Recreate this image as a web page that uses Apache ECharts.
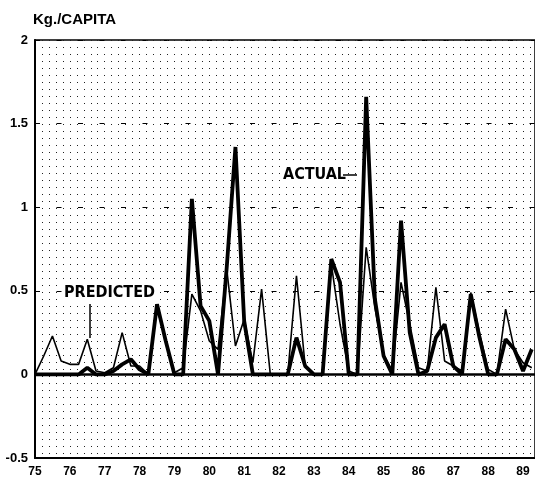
<!DOCTYPE html>
<html><head><meta charset="utf-8">
<script src="https://cdn.jsdelivr.net/npm/echarts@6/dist/echarts.min.js"></script>
<style>html,body{margin:0;padding:0;background:#fff}#c{width:535px;height:484px}</style>
</head><body><div id="c"></div>
<script>
// Quarterly data, first quarter of 1975 .. second quarter of 1989
const startYear = 75;
const quarterStep = 0.25;
const actual = [0,0,0,0, 0,0,0.04,0, 0,0.02,0.06,0.09, 0.03,0,0.42,0.2, 0,0,1.05,0.41,
  0.32,0,0.64,1.36, 0.32,0,0,0, 0,0,0.22,0.05, 0,0,0.69,0.55, 0,0,1.66,0.45,
  0.11,0,0.92,0.25, 0,0.02,0.22,0.3, 0.05,0,0.48,0.22, 0,0,0.21,0.15, 0.02,0.15];
const predicted = [0,0.11,0.23,0.08, 0.06,0.06,0.21,0.02, 0.01,0.04,0.25,0.05, 0.05,0,0.4,0.2, 0.01,0.04,0.48,0.38,
  0.2,0.15,0.63,0.17, 0.33,0.07,0.51,0, 0,0,0.59,0.05, 0,0,0.66,0.3, 0.02,0,0.76,0.4,
  0.12,0.02,0.55,0.3, 0.04,0.02,0.52,0.08, 0.05,0.02,0.49,0.25, 0.03,0,0.39,0.15, 0.07,0.04];
const yearLabels = ['75','76','77','78','79','80','81','82','83','84','85','86','87','88','89'];
const yTickLabels = ['-0.5','0','0.5','1','1.5','2'];
const yTitle = 'Kg./CAPITA';
const seriesNames = ['ACTUAL', 'PREDICTED'];

const times = actual.map((_, i) => startYear + i * quarterStep);
const pairs = arr => arr.map((v, i) => [times[i], v]);

const chart = echarts.init(document.getElementById('c'), null, {renderer: 'canvas'});
const dotStyle = {color: '#222', width: 1, type: [1, 6]};
const narrow = "'Liberation Sans Narrow','DejaVu Sans Condensed',Arial,sans-serif";

chart.setOption({
  animation: false,
  backgroundColor: '#fff',
  grid: {left: 35, right: -2, top: 40, bottom: 26, show: true, borderColor: '#000', borderWidth: 1.5, backgroundColor: 'transparent'},
  xAxis: {
    type: 'value', min: 75, max: 75 + 502 / 35, interval: 1,
    axisLine: {show: true, onZero: false, lineStyle: {color: '#000', width: 2}},
    axisTick: {show: false},
    axisLabel: {
      color: '#000', fontWeight: 'bold', fontSize: 12, fontFamily: 'Arial, sans-serif', margin: 8,
      showMaxLabel: false,
      formatter: v => (Number.isInteger(v) && v - 75 < yearLabels.length) ? yearLabels[v - 75] : ''
    },
    splitLine: {show: true, lineStyle: dotStyle},
    minorTick: {show: false, splitNumber: 5},
    minorSplitLine: {show: true, lineStyle: dotStyle}
  },
  yAxis: {
    type: 'value', min: -0.5, max: 2, interval: 0.5,
    axisLine: {show: true, lineStyle: {color: '#000', width: 2}},
    axisTick: {show: false},
    axisLabel: {
      color: '#000', fontWeight: 'bold', fontSize: 13, fontFamily: 'Arial, sans-serif', margin: 7,
      formatter: v => yTickLabels[Math.round((v + 0.5) / 0.5)]
    },
    splitLine: {show: true, lineStyle: {color: '#000', width: 1.2, type: [5, 16.5]}}
  },
  series: [
    {
      name: seriesNames[0], type: 'line', data: pairs(actual), showSymbol: false, z: 3,
      lineStyle: {color: '#000', width: 3.8}, itemStyle: {color: '#000'},
      markLine: {silent: true, symbol: 'none', label: {show: false},
        lineStyle: {color: '#000', width: 2.5, type: 'solid'}, data: [{yAxis: 0}]}
    },
    {
      name: seriesNames[1], type: 'line', data: pairs(predicted), showSymbol: false, z: 4,
      lineStyle: {color: '#000', width: 1.6}, itemStyle: {color: '#000'}
    }
  ],
  graphic: [
    {type: 'text', left: 33, top: 12, style: {text: yTitle, font: 'bold 15px Arial, sans-serif', fill: '#000'}},
    {type: 'text', x: 282, y: 175, z: 10, style: {text: seriesNames[0], font: 'bold 16px ' + narrow, fill: '#000',
      verticalAlign: 'middle', backgroundColor: '#fff', padding: [1, 1, 1, 1]}},
    {type: 'line', z: 10, shape: {x1: 343, y1: 175, x2: 357, y2: 175}, style: {stroke: '#000', lineWidth: 1.5}},
    {type: 'text', x: 62, y: 293, z: 10, style: {text: seriesNames[1], font: 'bold 16px ' + narrow, fill: '#000',
      verticalAlign: 'middle', backgroundColor: '#fff', padding: [1, 2, 1, 2]}},
    {type: 'line', z: 10, shape: {x1: 90, y1: 304, x2: 90, y2: 338}, style: {stroke: '#000', lineWidth: 1.5}}
  ]
});
</script></body></html>
